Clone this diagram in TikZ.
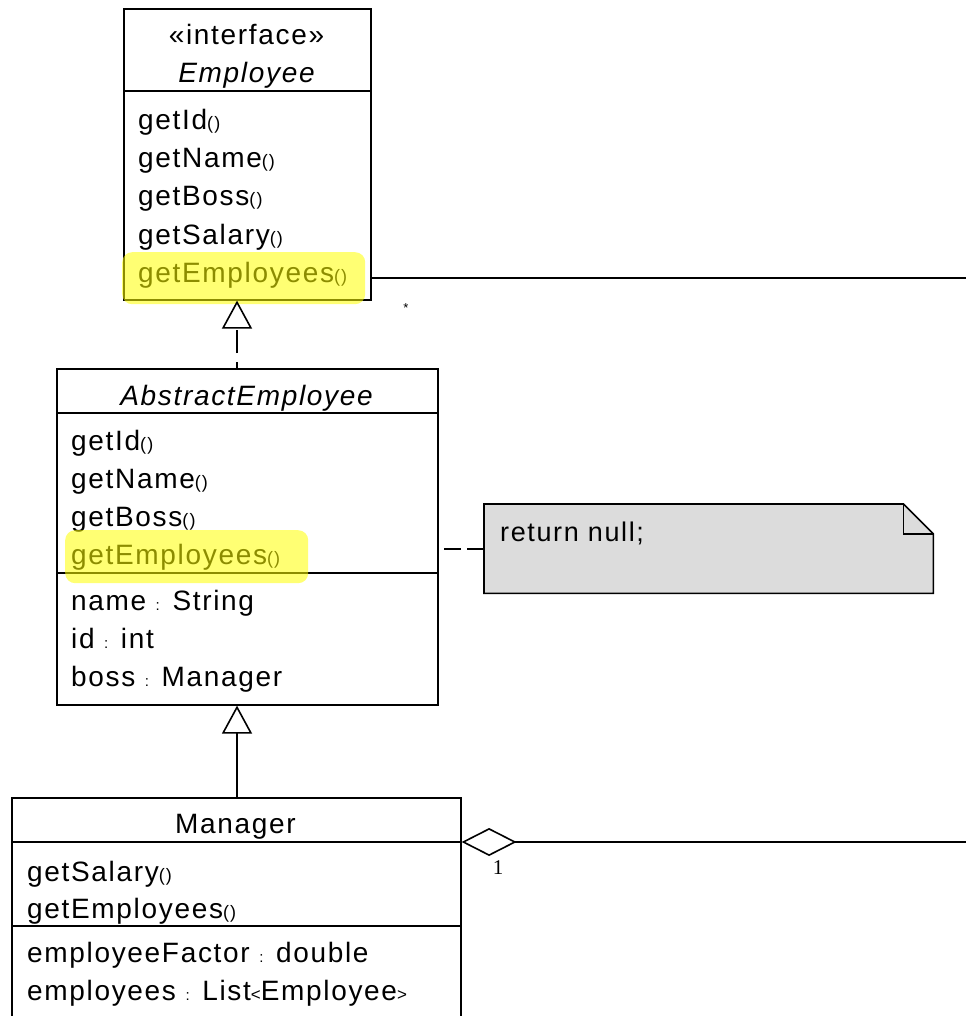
\documentclass[tikz,border=0pt]{standalone}
\usepackage{fontspec}
\setmainfont{Liberation Sans}[LetterSpace=6]
\newfontfamily\umlserif{Liberation Serif}
\usetikzlibrary{arrows.meta}

\definecolor{notegray}{RGB}{220,220,220}
\definecolor{hlyellow}{RGB}{255,255,0}

% type sizes used in the class boxes
\newcommand\umlfont{\fontsize{28}{34}\selectfont}
\newcommand\umlpar{{\fontsize{18}{18}\selectfont()}}
\newcommand\umlcolon{{\fontsize{15}{15}\selectfont:}}
\newcommand\umllt{{\fontsize{17}{17}\selectfont<}}
\newcommand\umlgt{{\fontsize{17}{17}\selectfont>}}

\tikzset{
  classbox/.style={draw, line width=1.6pt, inner sep=0pt, anchor=north west},
  rule/.style={line width=1.6pt},
  member/.style={anchor=base west, inner sep=0pt, font=\umlfont},
  classname/.style={anchor=base, inner sep=0pt, font=\umlfont},
  hl/.style={fill=hlyellow, fill opacity=0.55, rounded corners=10pt, inner sep=0pt, anchor=north west},
  conn/.style={line width=1.6pt},
  realize/.style={conn, dash pattern=on 23pt off 9pt, dash phase=17pt,
    -{Triangle[length=28pt, width=30pt, fill=white]}},
  generalize/.style={conn, -{Triangle[length=28pt, width=30pt, fill=white]}},
  aggregate/.style={conn, {Diamond[length=55pt, width=28pt, fill=white]}-},
  notelink/.style={conn, dash pattern=on 17pt off 6pt},
  notebody/.style={draw, line width=1.6pt, fill=notegray},
}

\begin{document}
\begin{tikzpicture}[x=1pt,y=-1pt]
\useasboundingbox (0,0) rectangle (966,1016);
\clip (0,0) rectangle (966,1016);

% ---- Employee interface ----
\node[classbox, minimum width=247pt, minimum height=291pt] (emp) at (123,8) {};
\coordinate (empsep) at (123,91);
\draw[rule] (empsep) -- (empsep -| emp.east);
\node[classname] (empstereo) at (246.5,45) {«interface»};
\node[classname, font=\umlfont\itshape] (empname) at (246.5,83) {Employee};
\node[member] (emp1) at (138,130) {getId\umlpar};
\node[member] (emp2) at (138,168) {getName\umlpar};
\node[member] (emp3) at (138,206) {getBoss\umlpar};
\node[member] (emp4) at (138,244) {getSalary\umlpar};
\node[member] (emp5) at (138,282) {getEmployees\umlpar};

% ---- AbstractEmployee ----
\node[classbox, minimum width=381pt, minimum height=336pt] (abs) at (56,368) {};
\coordinate (abssep1) at (56,413);
\coordinate (abssep2) at (56,573);
\draw[rule] (abssep1) -- (abssep1 -| abs.east);
\draw[rule] (abssep2) -- (abssep2 -| abs.east);
\node[classname, font=\umlfont\itshape] (absname) at (246.5,405) {AbstractEmployee};
\node[member] (abs1) at (71,450) {getId\umlpar};
\node[member] (abs2) at (71,488) {getName\umlpar};
\node[member] (abs3) at (71,526) {getBoss\umlpar};
\node[member] (abs4) at (71,564) {getEmployees\umlpar};
\node[member] (abs5) at (71,610) {name \umlcolon{} String};
\node[member] (abs6) at (71,648) {id \umlcolon{} int};
\node[member] (abs7) at (71,686) {boss \umlcolon{} Manager};

% ---- Manager ----
\node[classbox, minimum width=449pt, minimum height=250pt] (mgr) at (11,797) {};
\coordinate (mgrsep1) at (11,842);
\coordinate (mgrsep2) at (11,926);
\draw[rule] (mgrsep1) -- (mgrsep1 -| mgr.east);
\draw[rule] (mgrsep2) -- (mgrsep2 -| mgr.east);
\node[classname] (mgrname) at (235.5,833) {Manager};
\node[member] (mgr1) at (27,881) {getSalary\umlpar};
\node[member] (mgr2) at (27,918) {getEmployees\umlpar};
\node[member] (mgr3) at (27,962) {employeeFactor \umlcolon{} double};
\node[member] (mgr4) at (27,1000) {employees \umlcolon{} List\umllt Employee\umlgt};

% ---- note ----
\node[anchor=north west, inner sep=0pt, minimum width=449pt, minimum height=89pt] (note) at (484,504) {};
\draw[notebody] (note.north west) -- ([xshift=-30pt]note.north east)
  -- ([yshift=-30pt]note.north east) -- (note.south east) -- (note.south west) -- cycle;
\draw[rule] ([xshift=-30pt]note.north east) -- ([xshift=-30pt,yshift=-30pt]note.north east)
  -- ([yshift=-30pt]note.north east);
\node[member, font=\fontsize{27}{32}\selectfont] (notetext) at (500,541) {return null;};

% ---- highlighted operations ----
\node[hl, minimum width=243pt, minimum height=52pt] (hlemp) at (122,252) {};
\node[hl, minimum width=243pt, minimum height=53pt] (hlabs) at (65,530) {};

% ---- connectors ----
\coordinate (gx) at (237,0);
\draw[realize] (abs.north -| gx) -- (emp.south -| gx);
\draw[generalize] (mgr.north -| gx) -- (abs.south -| gx);
\draw[notelink] (note.west) -- (note.west -| abs.east);

\coordinate (assocend) at (966,278);
\draw[conn] (emp.east |- assocend) -- (assocend);
\node[inner sep=0pt, font=\fontsize{13}{13}\selectfont] (star) at (406,308) {*};

\coordinate (aggend) at (966,842);
\draw[aggregate] (mgr.east |- aggend) -- (aggend);
\node[inner sep=0pt, font=\umlserif\fontsize{21}{21}\selectfont] (one) at (498,868) {1};
\end{tikzpicture}
\end{document}
